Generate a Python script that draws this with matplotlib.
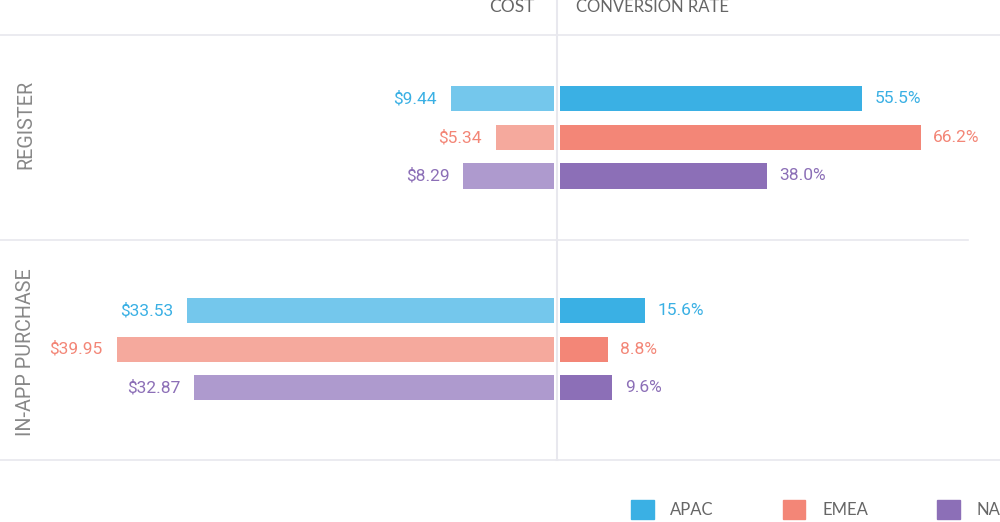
import matplotlib.pyplot as plt
from matplotlib.patches import Patch
from matplotlib.lines import Line2D

regions = ['APAC', 'EMEA', 'NA']
actions = ['REGISTER', 'IN-APP PURCHASE']
cost = [[9.44, 5.34, 8.29], [33.53, 39.95, 32.87]]
conv = [[55.5, 66.2, 38.0], [15.6, 8.8, 9.6]]

dark = ['#3AB0E4', '#F38677', '#8C6FB7']
light = ['#74C7EC', '#F5A99D', '#AE9ACE']
grid = '#E8E8EE'

W, H = 1000, 522
fig = plt.figure(figsize=(W / 100, H / 100), dpi=100)
ax_l = fig.add_axes([0, 0, 554 / W, 1])
ax_r = fig.add_axes([560 / W, 0, 440 / W, 1])

pos = [[0, 1, 2], [5.5, 6.5, 7.5]]
for g in range(len(actions)):
    for i in range(len(regions)):
        y = pos[g][i]
        ax_l.barh(y, cost[g][i], height=0.65, color=light[i])
        ax_l.annotate('\\$%.2f' % cost[g][i], (cost[g][i], y), xytext=(-10, 0),
                      textcoords='offset points', ha='right', va='center',
                      color=dark[i], fontsize=12.5, family='Roboto')
        ax_r.barh(y, conv[g][i], height=0.65, color=dark[i])
        ax_r.annotate('%.1f%%' % conv[g][i], (conv[g][i], y), xytext=(9, 0),
                      textcoords='offset points', ha='left', va='center',
                      color=dark[i], fontsize=12.5, family='Roboto')

ax_l.set_xlim(554 / 10.95, 0)
ax_r.set_xlim(0, 440 / 5.45)
for ax in (ax_l, ax_r):
    ax.set_ylim(10.987, -2.571)
    ax.axis('off')

def hline(y, x0=0, x1=W):
    fig.add_artist(Line2D([x0 / W, x1 / W], [1 - y / H, 1 - y / H], color=grid, lw=1.2))

hline(35)
hline(240, 0, 968)
hline(460)
fig.add_artist(Line2D([557 / W, 557 / W], [1, 1 - 460 / H], color=grid, lw=1.5))

fig.text(535 / W, 1 - 7 / H, 'COST', ha='right', va='center', color='#666666', fontsize=12.5, family='Lato')
fig.text(576 / W, 1 - 7 / H, 'CONVERSION RATE', ha='left', va='center', color='#666666', fontsize=12, family='Lato')

label_y = [124, 352]
for g in range(len(actions)):
    fig.text(26 / W, 1 - label_y[g] / H, actions[g], rotation=90, ha='center', va='center',
             color='#888888', fontsize=14.2, family='Roboto')

handles = [Patch(color=dark[i], label=regions[i]) for i in range(len(regions))]
leg = fig.legend(handles=handles, loc='upper left', bbox_to_anchor=(631 / W, 1 - 500 / H),
                 ncol=3, frameon=False, borderpad=0, borderaxespad=0,
                 handlelength=1.35, handleheight=1.35, handletextpad=1.0, columnspacing=4.15,
                 prop={'family': 'Lato', 'size': 12})
for t in leg.get_texts():
    t.set_color('#666666')

fig.savefig('out.png', dpi=100)
